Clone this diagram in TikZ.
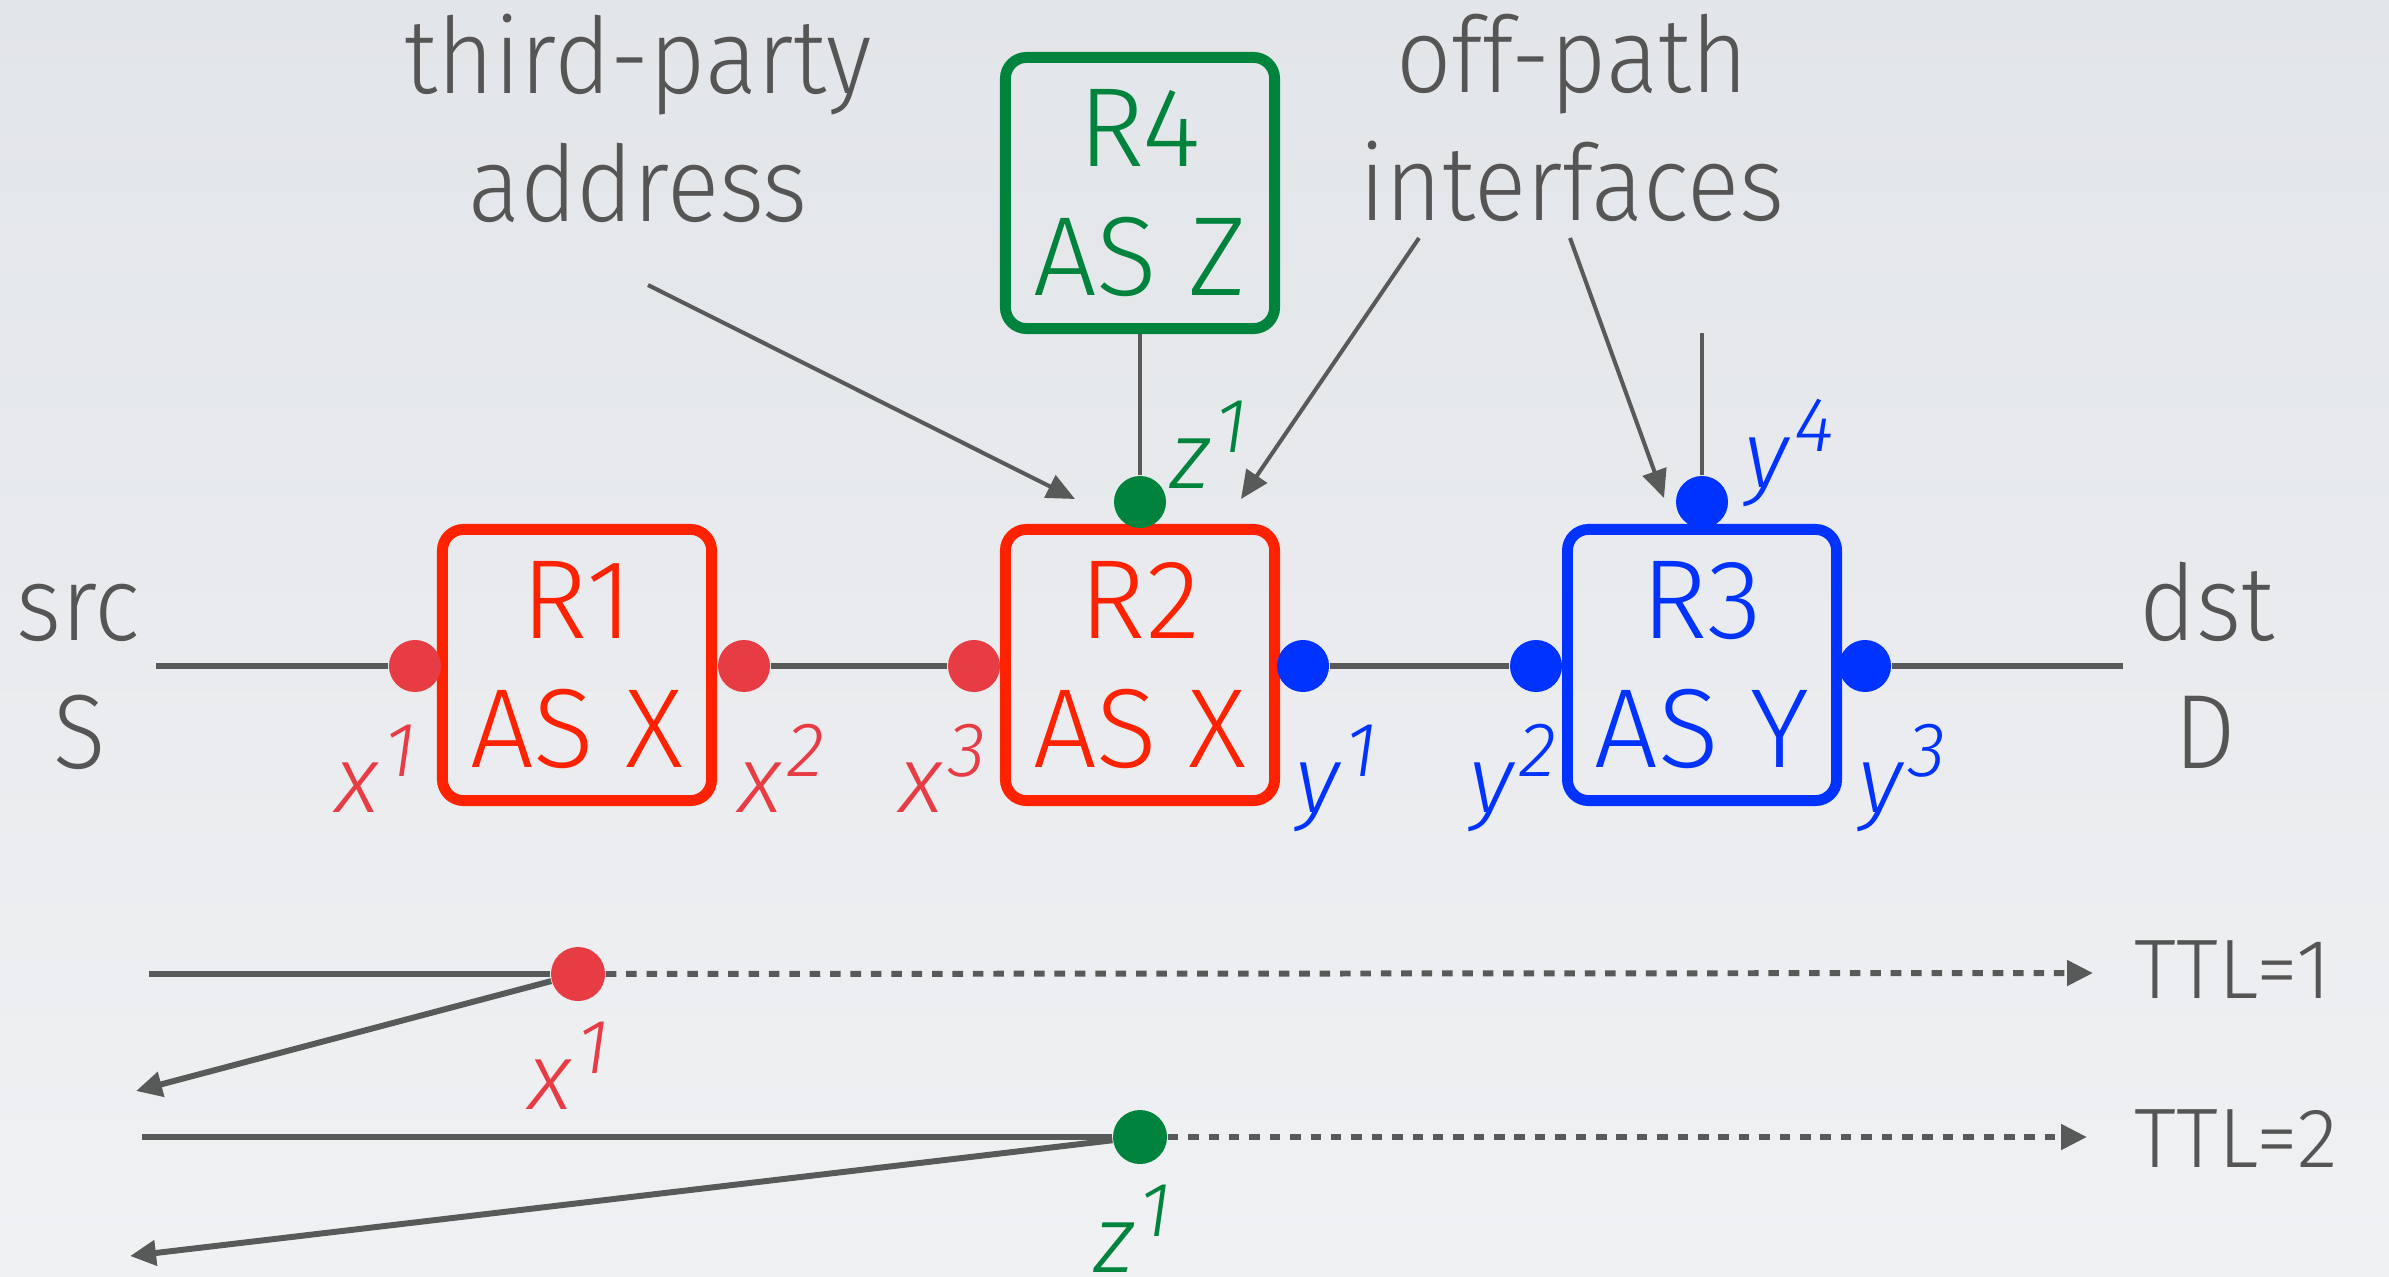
\documentclass[tikz,border=0pt]{standalone}
\usepackage{fontspec}
\setmainfont{Fira Sans Light}
\newfontfamily\captionfont{Fira Sans Light}[FakeStretch=0.92]
\usetikzlibrary{arrows.meta}

\definecolor{bgtop}{RGB}{226,229,233}
\definecolor{bgbot}{RGB}{240,241,243}
\definecolor{ink}{RGB}{85,85,85}
\definecolor{wire}{RGB}{88,90,90}
\definecolor{boxred}{RGB}{255,34,0}
\definecolor{dotred}{RGB}{232,60,69}
\definecolor{asgreen}{RGB}{0,132,61}
\definecolor{asblue}{RGB}{0,51,255}

% interface name with its index raised
\newcommand\ifsup[1]{\hspace{1.5pt}\raisebox{10pt}{\fontsize{22}{22}\selectfont\itshape #1}}
\newcommand\ifname[2]{\fontsize{27}{27}\selectfont\itshape #1\ifsup{#2}}

\begin{document}
\begin{tikzpicture}[x=0.01cm,y=-0.01cm,
  router/.style={draw, line width=3.1pt, rounded corners=6pt,
    minimum width=2.69cm, minimum height=2.71cm, align=center,
    font=\fontsize{32}{36.7}\selectfont},
  iface/.style={circle, inner sep=0pt, minimum size=0.52cm},
  wireline/.style={draw=wire, line width=1.7pt},
  stub/.style={draw=wire, line width=1.4pt},
  leader/.style={draw=wire, line width=1.15pt, -{Triangle[length=8pt,width=7pt]}},
  probe/.style={wireline, dash pattern=on 3pt off 2.8pt, -{Triangle[length=7.4pt,width=7pt]}},
  reply/.style={wireline, -{Triangle[length=7.4pt,width=7pt]}},
  words/.style={text=ink, inner sep=0pt, font=\captionfont\fontsize{30}{36.4}\selectfont},
  ttl/.style={text=ink, inner sep=0pt, anchor=base west, font=\fontsize{24}{24}\selectfont},
  lbl/.style={inner sep=0pt, anchor=base west}]

% backdrop
\shade[top color=bgtop, bottom color=bgbot] (0,0) rectangle (2389,1276);
\useasboundingbox (0,0) rectangle (2389,1276);

% routers
\node[router, draw=boxred, text=boxred] (r1) at (577,665) {R1\\AS X};
\node[router, draw=boxred, text=boxred] (r2) at (1140,665) {R2\\AS X};
\node[router, draw=asblue, text=asblue] (r3) at (1702,665) {R3\\AS Y};
\node[router, draw=asgreen, text=asgreen] (r4) at (1140,193) {R4\\AS Z};

% interfaces on the forward path
\node[iface, fill=dotred] (x1) at (415,666) {};
\node[iface, fill=dotred] (x2) at (744,666) {};
\node[iface, fill=dotred] (x3) at (974,666) {};
\node[iface, fill=asblue] (y1) at (1303,666) {};
\node[iface, fill=asblue] (y2) at (1536,666) {};
\node[iface, fill=asblue] (y3) at (1865,666) {};
\node[iface, fill=asgreen] (z1) at (1140,502) {};
\node[iface, fill=asblue] (y4) at (1702,502) {};

% links
\coordinate (srcend) at (156,666);
\coordinate (dstend) at (2123,666);
\coordinate (y4stub) at (1702,333);
\draw[wireline] (srcend) -- (x1);
\draw[wireline] (x2) -- (x3);
\draw[wireline] (y1) -- (y2);
\draw[wireline] (y3) -- (dstend);
\draw[stub] (r4) -- (z1);
\draw[stub] (y4stub) -- (y4);

% end hosts
\node[words, anchor=base] (src) at (78,640) {src};
\node[words, anchor=base] (S) at (80,768) {S};
\node[words, anchor=base] (dst) at (2207,640) {dst};
\node[words, anchor=base] (D) at (2205,768) {D};

% interface names
\node[lbl, text=dotred] (lx1) at (335,812) {\ifname{x}{1}};
\node[lbl, text=dotred] (lx2) at (738,812) {\ifname{x}{2}};
\node[lbl, text=dotred] (lx3) at (899,812) {\ifname{x}{3}};
\node[lbl, text=asblue] (ly1) at (1295,812) {\ifname{y}{1}};
\node[lbl, text=asblue] (ly2) at (1469,812) {\ifname{y}{2}};
\node[lbl, text=asblue] (ly3) at (1858,812) {\ifname{y}{3}};
\node[lbl, text=asblue] (ly4) at (1744,487) {\ifname{y}{4}};
\node[lbl, text=asgreen] (lz1) at (1170,488) {\ifname{z}{1}};

% callouts
\node[words, align=center] (tp) at (638,118) {third-party\\address};
\node[words, align=center] (op) at (1572,118) {off-path\\interfaces};
\coordinate (tpfrom) at (648,285);
\coordinate (tpto) at (1075,499);
\coordinate (opfromA) at (1419,238);
\coordinate (optoA) at (1241,499);
\coordinate (opfromB) at (1570,238);
\coordinate (optoB) at (1664,498);
\draw[leader] (tpfrom) -- (tpto);
\draw[leader] (opfromA) -- (optoA);
\draw[leader] (opfromB) -- (optoB);

% traceroute probes
\node[iface, fill=dotred, minimum size=0.54cm] (b1) at (578,974) {};
\node[iface, fill=asgreen, minimum size=0.54cm] (b2) at (1140,1137) {};
\coordinate (p1start) at (149,974);
\coordinate (p1end) at (2093,973);
\coordinate (p1back) at (136,1091);
\coordinate (p2start) at (142,1137);
\coordinate (p2end) at (2087,1137);
\coordinate (p2back) at (130,1256);
\draw[wireline] (p1start) -- (b1);
\draw[probe] (b1) -- (p1end);
\draw[reply] (b1) -- (p1back);
\draw[wireline] (p2start) -- (b2);
\draw[probe] (b2) -- (p2end);
\draw[reply] (b2) -- (p2back);

\node[lbl, text=dotred] (bx1) at (528,1109) {\ifname{x}{1}};
\node[lbl, text=asgreen] (bz1) at (1094,1272) {\ifname{z}{1}};

\node[ttl] (ttl1) at (2134,998) {TTL=1};
\node[ttl] (ttl2) at (2134,1167) {TTL=2};
\end{tikzpicture}
\end{document}
